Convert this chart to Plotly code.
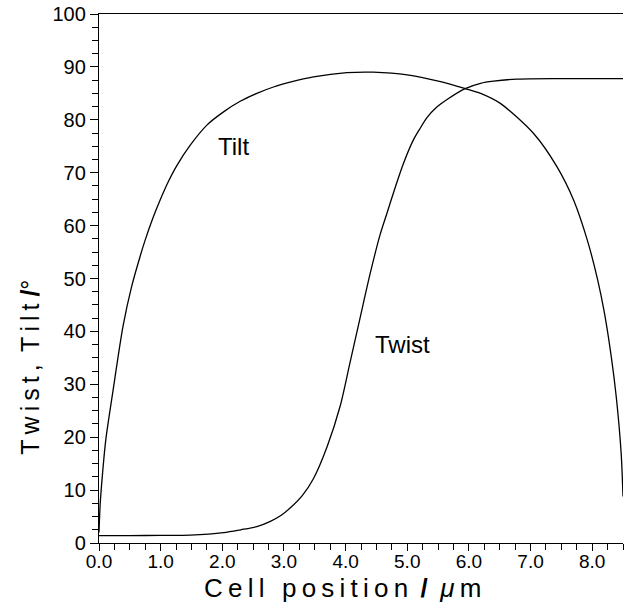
import plotly.graph_objects as go

tilt_x = [0.00, 0.02, 0.06, 0.11, 0.23, 0.39, 0.53, 0.67, 0.75, 0.87, 0.99, 1.12, 1.26,
          1.48, 1.75, 2.02, 2.29, 2.56, 2.83, 3.10, 3.48, 4.02, 4.45, 5.00, 5.54, 5.94,
          6.19, 6.51, 7.05, 7.43, 7.70, 7.92, 8.09, 8.20, 8.31, 8.39, 8.47, 8.50]
tilt_y = [2.0, 7.5, 13.5, 19.5, 29.0, 41.0, 48.5, 54.3, 57.3, 61.3, 64.8, 68.2, 71.3,
          75.2, 79.0, 81.5, 83.5, 85.0, 86.2, 87.1, 88.1, 88.9, 89.0, 88.5, 87.2, 85.9,
          85.0, 83.1, 77.4, 71.1, 64.8, 57.3, 49.7, 43.4, 35.2, 27.7, 17.0, 8.8]

twist_x = [0.00, 0.50, 1.00, 1.48, 2.02, 2.30, 2.56, 2.78, 2.95, 3.10, 3.30, 3.48, 3.70,
           3.91, 4.07, 4.24, 4.40, 4.56, 4.67, 4.81, 4.94, 5.10, 5.20, 5.32, 5.48, 5.64,
           5.94, 6.19, 6.40, 6.78, 7.50, 8.50]
twist_y = [1.4, 1.4, 1.45, 1.5, 1.95, 2.5, 3.1, 4.1, 5.2, 6.6, 9.0, 12.2, 18.2,
           25.8, 34.0, 42.8, 51.0, 58.3, 62.3, 67.4, 71.8, 76.2, 78.2, 80.4, 82.4, 83.8,
           85.9, 86.9, 87.3, 87.7, 87.8, 87.8]

x_tickvals = [0, 1, 2, 3, 4, 5, 6, 7, 8]
x_ticktext = ["0.0", "1.0", "2.0", "3.0", "4.0", "5.0", "6.0", "7.0", "8.0"]
y_tickvals = [0, 10, 20, 30, 40, 50, 60, 70, 80, 90, 100]

labels = ["Tilt", "Twist"]
label_x = [2.18, 4.92]
label_y = [74.9, 37.6]

SP = "\u2009"
x_title = SP.join("Cell position") + SP + " <b>/</b> " + SP + "<i>μ</i>" + SP + "m"
y_title = SP.join("Twist,") + "\u2002" + SP.join("Tilt") + " <b>/</b>°"

FONT = "Liberation Sans, Arial, sans-serif"

fig = go.Figure()
fig.add_trace(go.Scatter(x=tilt_x, y=tilt_y, mode="lines", name="Tilt",
                         line=dict(color="black", width=1.3, shape="spline", smoothing=0.8)))
fig.add_trace(go.Scatter(x=twist_x, y=twist_y, mode="lines", name="Twist",
                         line=dict(color="black", width=1.3, shape="spline", smoothing=0.8)))

for t, lx, ly in zip(labels, label_x, label_y):
    fig.add_annotation(x=lx, y=ly, text=t, showarrow=False,
                       font=dict(family=FONT, size=24, color="black"))

fig.add_annotation(xref="paper", yref="paper", x=0.464, y=-0.085, text=x_title,
                   showarrow=False, xanchor="center", yanchor="middle",
                   font=dict(family=FONT, size=26, color="black"))
fig.add_annotation(xref="paper", yref="paper", x=-0.132, y=0.333, text=y_title,
                   showarrow=False, xanchor="center", yanchor="middle", textangle=-90,
                   font=dict(family=FONT, size=25, color="black"))

fig.update_layout(
    width=624, height=611,
    margin=dict(l=99, r=1, t=14, b=68),
    paper_bgcolor="white", plot_bgcolor="white",
    showlegend=False,
    font=dict(family=FONT, color="black"),
)
fig.update_xaxes(
    range=[0, 8.5], tickvals=x_tickvals, ticktext=x_ticktext, automargin=False,
    showgrid=False, zeroline=False, showline=True, linecolor="black", linewidth=1.3,
    mirror=True, ticks="outside", ticklen=7, tickwidth=1.2, tickcolor="black",
    minor=dict(dtick=0.25, ticks="outside", ticklen=6, tickwidth=1, tickcolor="black"),
    tickfont=dict(family=FONT, size=19, color="black"), ticklabelstandoff=-6,
)
fig.update_yaxes(
    range=[0, 100], tickvals=y_tickvals, automargin=False,
    showgrid=False, zeroline=False, showline=True, linecolor="black", linewidth=1.3,
    ticks="outside", ticklen=8, tickwidth=1.2, tickcolor="black",
    minor=dict(dtick=2.5, ticks="outside", ticklen=6, tickwidth=1, tickcolor="black"),
    tickfont=dict(family=FONT, size=20, color="black"),
)

fig.write_html("out.html", config={"displayModeBar": False},
               post_script="document.body.style.margin='0';document.body.style.overflow='hidden';")
